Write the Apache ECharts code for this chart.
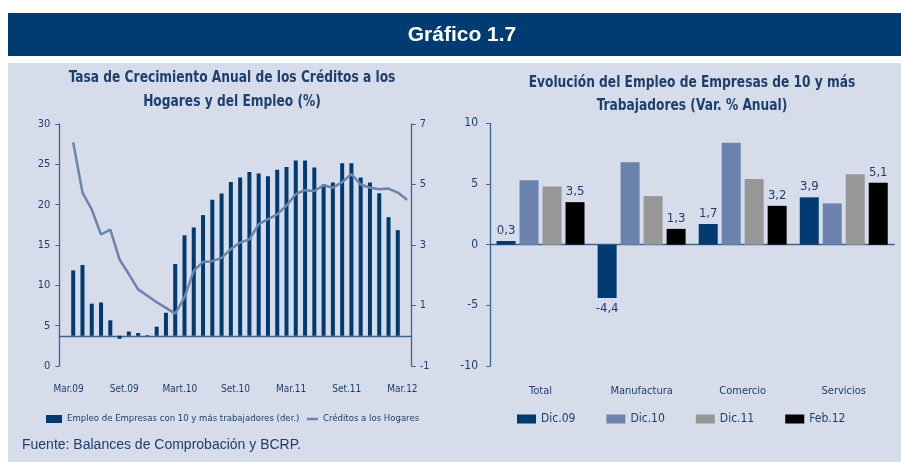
<!DOCTYPE html>
<html>
<head>
<meta charset="utf-8">
<script src="https://cdn.jsdelivr.net/npm/echarts@6/dist/echarts.min.js"></script>
<style>
  html, body { margin: 0; padding: 0; background: #fff; }
  #wrap { position: relative; width: 901px; height: 462px; overflow: hidden; }
  .banda { position: absolute; left: 8px; top: 13px; width: 893px; height: 43px; background: #003b71; }
  .panel { position: absolute; left: 8px; top: 63px; width: 893px; height: 399px; background: #d6dce9; }
  #chart { position: absolute; left: 0; top: 0; width: 901px; height: 462px; }
</style>
</head>
<body>
<div id="wrap">
  <div class="banda"></div>
  <div class="panel"></div>
  <div id="chart"></div>
</div>
<script>
// grafico izquierdo: meses Mar.09 - Mar.12
const meses = ['Mar.09', 'Abr.09', 'May.09', 'Jun.09', 'Jul.09', 'Ago.09', 'Set.09', 'Oct.09', 'Nov.09', 'Dic.09',
  'Ene.10', 'Feb.10', 'Mart.10', 'Abr.10', 'May.10', 'Jun.10', 'Jul.10', 'Ago.10', 'Set.10', 'Oct.10', 'Nov.10', 'Dic.10',
  'Ene.11', 'Feb.11', 'Mar.11', 'Abr.11', 'May.11', 'Jun.11', 'Jul.11', 'Ago.11', 'Set.11', 'Oct.11', 'Nov.11', 'Dic.11',
  'Ene.12', 'Feb.12', 'Mar.12'];
// creditos a los hogares (eje izq.)
const creditos = [27.7, 21.5, 19.4, 16.3, 16.9, 13.2, 11.4, 9.5, 8.7, 7.9,
  7.2, 6.5, 8.5, 11.8, 12.9, 13.0, 13.4, 14.5, 15.3, 15.7,
  17.6, 18.2, 18.8, 19.9, 21.3, 21.8, 21.7, 22.4, 22.1, 22.8,
  23.8, 22.5, 22.1, 21.9, 22.0, 21.5, 20.6];
// empleo empresas 10 y mas trabajadores (eje der.), hasta Feb.12
const empleo = [2.16, 2.34, 1.06, 1.10, 0.51, -0.10, 0.14, 0.09, 0.02, 0.30,
  0.76, 2.37, 3.32, 3.58, 3.99, 4.50, 4.70, 5.08, 5.23, 5.41,
  5.36, 5.27, 5.49, 5.58, 5.79, 5.79, 5.56, 5.00, 5.07, 5.70,
  5.70, 5.23, 5.07, 4.71, 3.92, 3.49];
const ticksDer = [-1, 1, 3, 5, 7];

// grafico derecho
const sectores = ['Total', 'Manufactura', 'Comercio', 'Servicios'];
const periodos = ['Dic.09', 'Dic.10', 'Dic.11', 'Feb.12'];
const dic09 = [0.3, -4.4, 1.7, 3.9];
const dic10 = [5.3, 6.8, 8.4, 3.4];
const dic11 = [4.8, 4.0, 5.4, 5.8];
const feb12 = [3.5, 1.3, 3.2, 5.1];

const NARROW = "'Liberation Sans Narrow', 'DejaVu Sans Condensed', sans-serif";
const AZUL = '#1d3f6e';
const EJE = '#3d6394';
const coloresPer = ['#003a70', '#6b83ad', '#979797', '#000000'];
const nombreEmpleo = 'Empleo de Empresas con 10 y más trabajadores (der.)';
const nombreCred = 'Créditos a los Hogares';

// categoria vacia al inicio (el eje empieza un mes antes de Mar.09)
const ejeCat = [''].concat(meses);
const cadaSeis = (i) => i % 6 === 1;
const coma = (p) => String(p.value).replace('.', ',');

const chart = echarts.init(document.getElementById('chart'));

const valoresPer = [dic09, dic10, dic11, feb12];
const seriesDer = periodos.map((p, k) => {
  const conEtiqueta = k === 0 || k === 3;
  return {
    name: p,
    type: 'bar',
    xAxisIndex: 2,
    yAxisIndex: 2,
    barWidth: 19,
    barGap: '21%',
    itemStyle: { color: coloresPer[k] },
    label: {
      show: conEtiqueta, position: 'top', distance: 4, formatter: coma,
      color: AZUL, fontSize: 13, fontFamily: NARROW
    },
    data: valoresPer[k].map(v => v < 0 ? { value: v, label: { position: 'bottom' } } : v)
  };
});

// titulos (texto condensado a lo ancho)
const titulo = (txt, x, y) => ({
  type: 'text', x: x, y: y, scaleX: 0.85,
  style: { text: txt, fill: AZUL, font: 'bold 16px ' + NARROW, align: 'center', verticalAlign: 'middle' }
});

const option = {
  backgroundColor: 'transparent',
  animation: false,
  graphic: [
    { type: 'text', x: 462, y: 35, style: { text: 'Gráfico 1.7', fill: '#fff', font: "bold 21px 'Liberation Sans', sans-serif", align: 'center', verticalAlign: 'middle' } },
    titulo('Tasa de Crecimiento Anual de los Créditos a los', 232, 78),
    titulo('Hogares y del Empleo (%)', 232, 101.5),
    titulo('Evolución del Empleo de Empresas de 10 y más', 692, 83),
    titulo('Trabajadores (Var. % Anual)', 692, 106),
    { type: 'text', x: 22, y: 445, style: { text: 'Fuente: Balances de Comprobación y BCRP.', fill: AZUL, font: "14px 'Liberation Sans', sans-serif", align: 'left', verticalAlign: 'middle' } }
  ],
  legend: [
    { data: [{ name: nombreEmpleo, icon: 'rect' }], left: 46, top: 414, padding: 0, itemWidth: 16, itemHeight: 8, itemGap: 0,
      textStyle: { color: AZUL, fontSize: 9.5, fontFamily: NARROW } },
    { data: [{ name: nombreCred, icon: 'rect' }], left: 307, top: 414, padding: 0, itemWidth: 11, itemHeight: 2.5, itemGap: 0,
      textStyle: { color: AZUL, fontSize: 9.5, fontFamily: NARROW } },
    { data: periodos.map(p => ({ name: p, icon: 'rect' })), left: 517, top: 413, padding: 0, itemWidth: 19, itemHeight: 9, itemGap: 31,
      textStyle: { color: AZUL, fontSize: 12, fontFamily: NARROW } }
  ],
  grid: [
    { left: 59.3, top: 124, width: 352.4, height: 242 },
    { left: 490, top: 123.3, width: 404.3, height: 242.7 }
  ],
  xAxis: [
    { gridIndex: 0, type: 'category', data: ejeCat, boundaryGap: true,
      axisLine: { onZero: true, onZeroAxisIndex: 1, lineStyle: { color: EJE, width: 1.3 } },
      axisTick: { interval: cadaSeis, length: 6, lineStyle: { color: EJE } },
      axisLabel: { show: false } },
    { gridIndex: 0, type: 'category', data: ejeCat, position: 'bottom', boundaryGap: true,
      axisLine: { show: false, onZero: false }, axisTick: { show: false },
      axisLabel: { interval: cadaSeis, padding: [0, 9.3, 0, 0], margin: 18, color: AZUL, fontSize: 10, fontFamily: NARROW } },
    { gridIndex: 1, type: 'category', data: sectores,
      axisLine: { onZero: true, onZeroAxisIndex: 2, lineStyle: { color: EJE, width: 1.3 } },
      axisTick: { length: 5, lineStyle: { color: EJE } },
      axisLabel: { show: false } },
    { gridIndex: 1, type: 'category', data: sectores, position: 'bottom',
      axisLine: { show: false, onZero: false }, axisTick: { show: false },
      axisLabel: { margin: 20, color: AZUL, fontSize: 11, fontFamily: NARROW } }
  ],
  yAxis: [
    { gridIndex: 0, type: 'value', min: 0, max: 30, interval: 5, position: 'left',
      axisLine: { show: true, lineStyle: { color: EJE, width: 1.3 } },
      axisTick: { show: true, length: 4, lineStyle: { color: EJE } },
      splitLine: { show: false },
      axisLabel: { margin: 9, color: AZUL, fontSize: 11, fontFamily: NARROW } },
    { gridIndex: 0, type: 'value', min: -1, max: 7, position: 'right',
      axisLine: { show: true, lineStyle: { color: EJE, width: 1.3 } },
      axisTick: { show: true, length: 4, customValues: ticksDer, lineStyle: { color: EJE } },
      splitLine: { show: false },
      axisLabel: { customValues: ticksDer, margin: 8, color: AZUL, fontSize: 11, fontFamily: NARROW } },
    { gridIndex: 1, type: 'value', min: -10, max: 10, interval: 5, position: 'left',
      axisLine: { show: true, lineStyle: { color: EJE, width: 1.3 } },
      axisTick: { show: true, length: 4, lineStyle: { color: EJE } },
      splitLine: { show: false },
      axisLabel: { margin: 12, color: AZUL, fontSize: 12, fontFamily: NARROW } }
  ],
  series: [
    { name: nombreEmpleo, type: 'bar', xAxisIndex: 0, yAxisIndex: 1, barWidth: 4,
      itemStyle: { color: '#003a70' }, data: [null].concat(empleo) },
    { name: nombreCred, type: 'line', xAxisIndex: 0, yAxisIndex: 0, symbol: 'none', z: 3,
      lineStyle: { color: '#6b83ad', width: 2.5 }, itemStyle: { color: '#6b83ad' },
      data: [null].concat(creditos) }
  ].concat(seriesDer)
};

chart.setOption(option);
</script>
</body>
</html>
